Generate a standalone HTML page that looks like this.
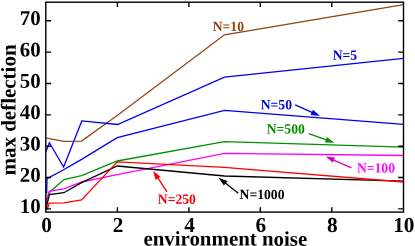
<!DOCTYPE html>
<html><head><meta charset="utf-8"><title>max deflection vs environment noise</title>
<style>
html,body{margin:0;padding:0;background:#fff;}
svg{display:block;}
text{font-family:"Liberation Serif",serif;font-weight:bold;}
.tk{font-size:20.9px;fill:#000;}
.lb{font-size:14px;}
.ln{fill:none;stroke-width:1.3;stroke-linejoin:miter;}
.ar{stroke-width:1.3;fill:none;}
</style></head>
<body>
<svg width="415" height="246" viewBox="0 0 415 246">
<rect width="415" height="246" fill="#fff"/>
<!-- data lines -->
<polyline class="ln" stroke="#8f4513" points="46,137.9 49.5,138.6 63.8,141.3 81.6,141.1 117.2,115.5 224.5,34.8 403.5,4.7"/>
<polyline class="ln" stroke="#0000f0" points="46,151.4 49.4,142.7 63.6,167.0 81.8,120.9 117.5,124.5 224.5,77.1 403.5,58.4"/>
<polyline class="ln" stroke="#0000f0" points="46.7,193.5 47.0,178.7 63.6,169.7 81.6,159.4 117.2,137.7 224.5,110.3 403.5,124.4"/>
<polyline class="ln" stroke="#009000" points="46,200 49.4,192.5 63.9,179.6 81.6,175.6 117.2,161.0 224.5,141.7 403.5,147.1"/>
<polyline class="ln" stroke="#ff00ff" points="46,203 49.4,191 63.9,188.9 81.6,182 117.2,174.7 224.5,153.4 403.5,155.5"/>
<polyline class="ln" stroke="#000000" points="46,208.5 49.4,194.6 63.9,192.7 81.6,182.6 117.2,166 224.5,176 403.5,181.2"/>
<polyline class="ln" stroke="#ff0000" points="46.4,204 47.3,209.6 49.1,203.2 63.9,202.8 81.6,199.9 117.2,161.8 224.5,167.3 403.5,182"/>
<!-- axes -->
<g stroke="#000" stroke-width="1.4" fill="none">
<rect x="45.8" y="2.2" width="357.7" height="209.9"/>
<path d="M45.8,208.90h5.3M45.8,177.55h5.3M45.8,146.20h5.3M45.8,114.85h5.3M45.8,83.50h5.3M45.8,52.15h5.3M45.8,20.80h5.3"/>
<path d="M403.5,208.90h-5.3M403.5,177.55h-5.3M403.5,146.20h-5.3M403.5,114.85h-5.3M403.5,83.50h-5.3M403.5,52.15h-5.3M403.5,20.80h-5.3"/>
<path d="M117.4,212.1v-4.8M188.9,212.1v-4.8M260.3,212.1v-4.8M331.8,212.1v-4.8"/>
<path d="M117.4,2.2v4.8M188.9,2.2v4.8M260.3,2.2v4.8M331.8,2.2v4.8"/>
</g>
<!-- tick labels -->
<g class="tk" text-anchor="end">
<text transform="translate(40.7,25.0) rotate(0.03)">70</text>
<text transform="translate(40.7,56.4) rotate(0.03)">60</text>
<text transform="translate(40.7,87.7) rotate(0.03)">50</text>
<text transform="translate(40.7,119.1) rotate(0.03)">40</text>
<text transform="translate(40.7,150.4) rotate(0.03)">30</text>
<text transform="translate(40.7,181.8) rotate(0.03)">20</text>
<text transform="translate(40.7,213.1) rotate(0.03)">10</text>
</g>
<g class="tk" text-anchor="middle" style="font-size:21.3px">
<text transform="translate(46.6,232.0) rotate(0.03)">0</text>
<text transform="translate(118.0,232.0) rotate(0.03)">2</text>
<text transform="translate(189.5,232.0) rotate(0.03)">4</text>
<text transform="translate(260.9,232.0) rotate(0.03)">6</text>
<text transform="translate(332.4,232.0) rotate(0.03)">8</text>
<text transform="translate(403.8,232.0) rotate(0.03)">10</text>
</g>
<text class="tk" transform="translate(225.3,245.6) rotate(0.03)" style="font-size:20.9px" text-anchor="middle">environment noise</text>
<text class="tk" transform="translate(15.6,110) rotate(-89.97)" style="font-size:21px" text-anchor="middle">max deflection</text>
<!-- annotations -->
<text class="lb" transform="translate(212.7,31.0) rotate(0.03) scale(0.975,1)" fill="#8f4513">N=10</text>
<text class="lb" transform="translate(332.7,59.8) rotate(0.03) scale(0.975,1)" fill="#0000dc">N=5</text>
<text class="lb" transform="translate(260.7,109.3) rotate(0.03) scale(0.975,1)" fill="#0000dc">N=50</text>
<text class="lb" transform="translate(266.7,133.5) rotate(0.03) scale(0.975,1)" fill="#009000">N=500</text>
<text class="lb" transform="translate(356.9,172.6) rotate(0.03) scale(0.975,1)" fill="#ff0cff">N=100</text>
<text class="lb" transform="translate(239.6,199.1) rotate(0.03) scale(0.975,1)" fill="#000">N=1000</text>
<text class="lb" transform="translate(157.8,203.8) rotate(0.03) scale(0.975,1)" fill="#ff0000">N=250</text>
<!-- arrows -->
<g stroke="#0000dc" fill="#0000dc"><line class="ar" x1="295.2" y1="104.9" x2="313.6" y2="113.2"/><polygon stroke="none" points="320.0,116.1 310.6,115.0 313.0,109.8"/></g>
<g stroke="#009000" fill="#009000"><line class="ar" x1="308.8" y1="133.7" x2="327.8" y2="140.4"/><polygon stroke="none" points="334.4,142.7 324.9,142.5 326.9,137.0"/></g>
<g stroke="#d400d4" fill="#d400d4"><line class="ar" x1="351.4" y1="167.8" x2="332.1" y2="159.3"/><polygon stroke="none" points="325.7,156.5 335.1,157.5 332.8,162.8"/></g>
<g stroke="#000" fill="#000"><line class="ar" x1="238.3" y1="193.3" x2="224.1" y2="182.1"/><polygon stroke="none" points="218.6,177.8 227.5,181.1 223.9,185.6"/></g>
<g stroke="#ff0000" fill="#ff0000"><line class="ar" x1="167" y1="191.9" x2="157.0" y2="176.6"/><polygon stroke="none" points="153.1,170.8 160.5,176.7 155.6,179.9"/></g>
</svg>
</body></html>
